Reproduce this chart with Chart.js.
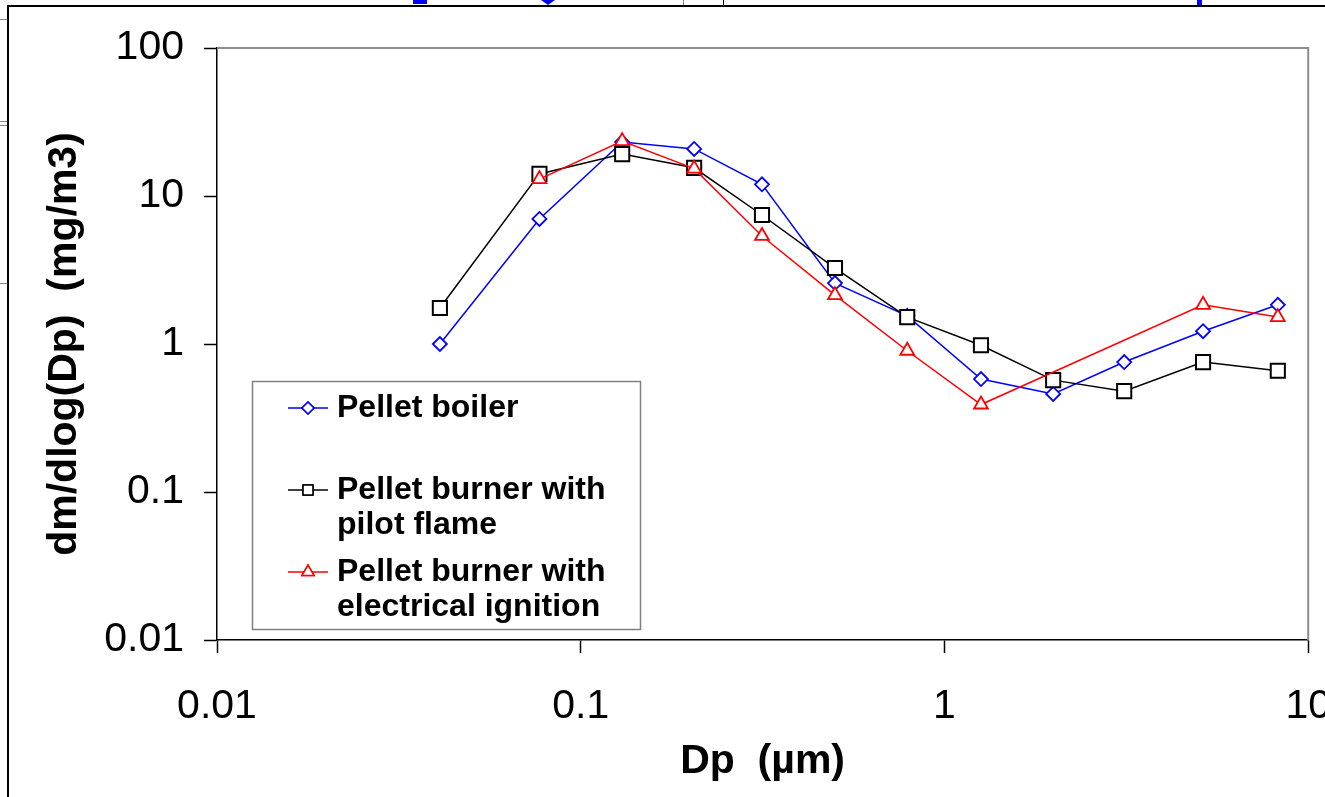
<!DOCTYPE html>
<html>
<head>
<meta charset="utf-8">
<script src="https://cdn.jsdelivr.net/npm/chart.js@4.4.1/dist/chart.umd.min.js"></script>
<style>
    html, body { margin: 0; padding: 0; background: #fff; overflow: hidden; }
    #wrap { position: absolute; left: 0; top: 0; width: 1360px; height: 797px; }
</style>
</head>
<body>
<div id="wrap"><canvas id="psd-chart"></canvas></div>
<script>
// Granulométrie des particules
const diameters = [0.041, 0.077, 0.13, 0.205, 0.315, 0.50, 0.79, 1.26, 1.99, 3.12, 5.14, 8.25];
const pelletBoiler = [1.0, 7.0, 23.2, 20.8, 12.0, 2.58, 1.55, 0.58, 0.46, 0.755, 1.22, 1.84];
const pilotFlame = [1.75, 14.1, 19.2, 15.5, 7.44, 3.26, 1.52, 0.98, 0.57, 0.48, 0.755, 0.66];
const electricalIgnition = [null, 13.0, 23.5, 15.3, 5.37, 2.14, 0.90, 0.39, null, null, 1.84, 1.52];

const seriesNames = ['Pellet boiler', 'Pellet burner with\npilot flame', 'Pellet burner with\nelectrical ignition'];
const xTickValues = [0.01, 0.1, 1, 10];
const yTickValues = [0.01, 0.1, 1, 10, 100];

const FONT = "'Liberation Sans', Arial, sans-serif";

function toPoints(values) {
    return diameters.map((d, i) => ({ x: d, y: values[i] }));
}

// Fond, cadre du graphique et bordure grise de la zone de tracé
const framePlugin = {
    id: 'frame',
    beforeDraw(chart) {
        const ctx = chart.ctx;
        ctx.save();
        ctx.fillStyle = '#fff';
        ctx.fillRect(0, 0, chart.width, chart.height);
        ctx.strokeStyle = '#000';
        ctx.lineWidth = 2;
        ctx.beginPath();
        ctx.moveTo(8, 797);
        ctx.lineTo(8, 6);
        ctx.lineTo(chart.width, 6);
        ctx.stroke();
        // restes du graphique voisin
        ctx.strokeStyle = '#888';
        ctx.lineWidth = 1;
        [19, 121, 125, 283].forEach(y => {
            ctx.beginPath();
            ctx.moveTo(0, y + 0.5);
            ctx.lineTo(7, y + 0.5);
            ctx.stroke();
        });
        ctx.beginPath();
        ctx.moveTo(683.5, 0);
        ctx.lineTo(683.5, 5);
        ctx.stroke();
        ctx.strokeStyle = '#000';
        ctx.beginPath();
        ctx.moveTo(723.5, 0);
        ctx.lineTo(723.5, 5);
        ctx.stroke();
        ctx.fillStyle = '#0000ff';
        ctx.fillRect(413, 0, 14, 4);
        ctx.fillRect(1197, 0, 5, 5);
        ctx.beginPath();
        ctx.moveTo(541, 0);
        ctx.lineTo(555, 0);
        ctx.lineTo(548, 5);
        ctx.closePath();
        ctx.fill();
        ctx.restore();
    },
    beforeDatasetsDraw(chart) {
        const { ctx, chartArea } = chart;
        ctx.save();
        ctx.strokeStyle = '#8c8c8c';
        ctx.lineWidth = 2;
        ctx.beginPath();
        ctx.moveTo(chartArea.left, chartArea.top);
        ctx.lineTo(chartArea.right, chartArea.top);
        ctx.lineTo(chartArea.right, chartArea.bottom);
        ctx.stroke();
        ctx.restore();
    }
};

// Légende encadrée avec libellés sur deux lignes
const boxLegendPlugin = {
    id: 'boxLegend',
    afterDraw(chart) {
        const { ctx, chartArea } = chart;
        const left = chartArea.left + 35;
        const top = chartArea.top + 333;
        const rows = [top + 27, top + 109, top + 191];
        ctx.save();
        ctx.fillStyle = '#fff';
        ctx.fillRect(left, top, 388, 248);
        ctx.strokeStyle = '#808080';
        ctx.lineWidth = 1.5;
        ctx.strokeRect(left + 0.5, top + 0.5, 388, 248);

        chart.data.datasets.forEach((ds, i) => {
            const y = rows[i];
            ctx.strokeStyle = ds.borderColor;
            ctx.lineWidth = 1.5;
            ctx.beginPath();
            ctx.moveTo(left + 36, y);
            ctx.lineTo(left + 76, y);
            ctx.stroke();
            Chart.helpers.drawPoint(ctx, {
                pointStyle: ds.pointStyle,
                radius: ds.legendRadius,
                borderWidth: 1.5,
                rotation: 0
            }, left + 56, y);
            ctx.fillStyle = '#fff';
            ctx.fill();
            ctx.stroke();

            ctx.fillStyle = '#000';
            ctx.font = 'bold 32px ' + FONT;
            ctx.textBaseline = 'middle';
            ctx.textAlign = 'left';
            ds.label.split('\n').forEach((line, k) => {
                ctx.fillText(line, left + 85, y + k * 35);
            });
        });
        ctx.restore();
    }
};

const ctx = document.getElementById('psd-chart').getContext('2d');
const psdChart = new Chart(ctx, {
    type: 'line',
    data: {
        datasets: [
            {
                label: seriesNames[0],
                data: toPoints(pelletBoiler),
                borderColor: '#0000ff',
                backgroundColor: '#fff',
                borderWidth: 1.5,
                pointStyle: 'rectRot',
                pointRadius: 7,
                legendRadius: 6,
                pointBorderWidth: 1.8,
                order: 2
            },
            {
                label: seriesNames[1],
                data: toPoints(pilotFlame),
                borderColor: '#000',
                backgroundColor: '#fff',
                borderWidth: 1.5,
                pointStyle: 'rect',
                pointRadius: 10,
                legendRadius: 7,
                pointBorderWidth: 2,
                order: 1
            },
            {
                label: seriesNames[2],
                data: toPoints(electricalIgnition),
                borderColor: '#ff0000',
                backgroundColor: '#fff',
                borderWidth: 1.5,
                pointStyle: 'triangle',
                pointRadius: 8,
                legendRadius: 7,
                pointBorderWidth: 1.8,
                spanGaps: true,
                order: 0
            }
        ]
    },
    options: {
        responsive: true,
        maintainAspectRatio: false,
        animation: false,
        layout: {
            padding: { left: 30, right: 48, top: 48, bottom: 8 }
        },
        plugins: {
            legend: { display: false },
            tooltip: { enabled: false }
        },
        scales: {
            x: {
                type: 'logarithmic',
                min: 0.01,
                max: 10,
                afterBuildTicks: scale => { scale.ticks = xTickValues.map(v => ({ value: v })); },
                afterFit: scale => { scale.height = 149; },
                ticks: {
                    autoSkip: false,
                    maxRotation: 0,
                    padding: 29,
                    color: '#000',
                    font: { family: FONT, size: 41 },
                    callback: value => String(value)
                },
                grid: { drawOnChartArea: false, drawTicks: true, tickLength: 13, tickColor: '#000', tickWidth: 1.5 },
                border: { display: true, color: '#000', width: 1.5 },
                title: {
                    display: true,
                    text: 'Dp  (µm)',
                    color: '#000',
                    font: { family: FONT, size: 41, weight: 'bold' },
                    padding: { top: 8, bottom: 3 }
                }
            },
            y: {
                type: 'logarithmic',
                min: 0.01,
                max: 100,
                afterBuildTicks: scale => { scale.ticks = yTickValues.map(v => ({ value: v })); },
                afterFit: scale => { scale.width = 187; },
                ticks: {
                    autoSkip: false,
                    padding: 20,
                    color: '#000',
                    font: { family: FONT, size: 41 },
                    callback: value => String(value)
                },
                grid: { drawOnChartArea: false, drawTicks: true, tickLength: 13, tickColor: '#000', tickWidth: 1.5 },
                border: { display: true, color: '#000', width: 1.5 },
                title: {
                    display: true,
                    text: 'dm/dlog(Dp)  (mg/m3)',
                    color: '#000',
                    font: { family: FONT, size: 41, weight: 'bold' },
                    padding: { top: 10, bottom: 15 }
                }
            }
        }
    },
    plugins: [framePlugin, boxLegendPlugin]
});
</script>
</body>
</html>
